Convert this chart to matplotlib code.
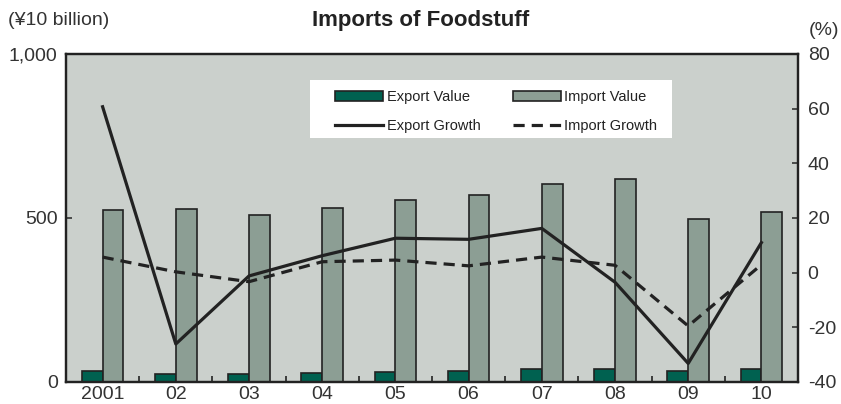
import numpy as np
import matplotlib
matplotlib.use('Agg')
import matplotlib.pyplot as plt
from matplotlib.patches import Rectangle

years = ['2001', '02', '03', '04', '05', '06', '07', '08', '09', '10']
export_value = [34, 25, 25, 27, 30, 34, 41, 39, 34, 39]
import_value = [524, 528, 510, 530, 555, 571, 604, 619, 497, 517]
export_growth = [60.7, -26.1, -1.2, 6.2, 12.6, 12.2, 16.2, -3.5, -33.2, 11.0]
import_growth = [5.7, 0.3, -3.3, 4.0, 4.6, 2.5, 5.7, 2.7, -19.5, 2.9]

plt.rcParams['font.family'] = ['Liberation Sans', 'DejaVu Sans']
plt.rcParams['axes.unicode_minus'] = False

fig = plt.figure(figsize=(8.41, 4.04), dpi=100)
ax = fig.add_axes([66/841, 22/404, 732/841, 328/404])
ax.set_facecolor('#cbd0cc')
ax2 = ax.twinx()

x = np.arange(len(years))
w = 0.285
b1 = ax.bar(x - w/2, export_value, w, color='#006150', edgecolor='#222222', linewidth=1.2, label='Export Value')
b2 = ax.bar(x + w/2, import_value, w, color='#8c9e94', edgecolor='#222222', linewidth=1.2, label='Import Value')

l1, = ax2.plot(x, export_growth, color='#222222', lw=2.3, label='Export Growth')
l2, = ax2.plot(x, import_growth, color='#222222', lw=2.3, ls=(0, (3.5, 2.2)), label='Import Growth')

ax.set_xlim(-0.5, 9.5)
ax.set_ylim(0, 1000)
ax2.set_ylim(-40, 80)
ax.set_yticks([0, 500, 1000])
ax.set_yticklabels(['0', '500', '1,000'])
ax2.set_yticks(range(-40, 81, 20))

ax.set_xticks(x)
ax.set_xticklabels(years)
ax.set_xticks(np.arange(0.5, 9.5, 1), minor=True)
ax.tick_params(axis='x', which='major', length=0, labelsize=14, pad=3, colors='#333333')
ax.tick_params(axis='x', which='minor', direction='in', length=4, width=1.2, color='#222222')
ax.tick_params(axis='y', direction='in', length=4, width=1.2, labelsize=14, pad=6, colors='#333333')
ax2.tick_params(axis='y', direction='in', length=4, width=1.2, labelsize=14, pad=7, colors='#333333')
for a in (ax, ax2):
    for s in a.spines.values():
        s.set_linewidth(1.6)
        s.set_color('#222222')

# white legend box
ax2.add_patch(Rectangle((0.3333, 0.744), 0.495, 0.177, transform=ax2.transAxes,
                        facecolor='white', edgecolor='none', zorder=4))
leg = ax2.legend([b1, l1, b2, l2], ['Export Value', 'Export Growth', 'Import Value', 'Import Growth'],
                 ncol=2, loc='upper left', bbox_to_anchor=(0.3675, 0.89), fontsize=10.5,
                 frameon=False, borderpad=0, borderaxespad=0,
                 handlelength=3.3, handleheight=0.7, columnspacing=2.2, labelspacing=1.0,
                 handletextpad=0.25)
leg.set_zorder(5)
for t in leg.get_texts():
    t.set_color('#222222')

fig.text(0.5, 0.95, 'Imports of Foodstuff', ha='center', va='center', fontsize=16, fontweight='bold', color='#222222')
fig.text(0.01, 0.95, '(¥10 billion)', ha='left', va='center', fontsize=14, color='#333333')
fig.text(0.998, 0.925, '(%)', ha='right', va='center', fontsize=14, color='#333333')

fig.savefig('out.png', dpi=100)
